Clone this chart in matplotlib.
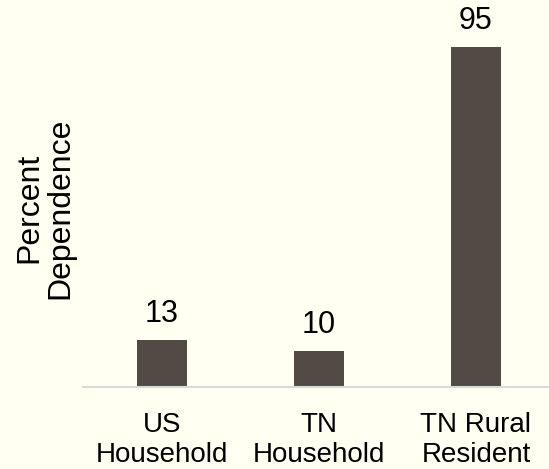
import matplotlib
matplotlib.use("Agg")
import matplotlib.pyplot as plt

categories = ["US\nHousehold", "TN\nHousehold", "TN Rural\nResident"]
values = [13, 10, 95]

bg = "#FFFFF2"
bar_color = "#524A45"

plt.rcParams["font.family"] = ["Liberation Sans", "DejaVu Sans"]

fig = plt.figure(figsize=(5.49, 4.69), dpi=100, facecolor=bg)
ax = fig.add_axes([0.152, 0.1755, 0.858, 0.7625], facecolor=bg)

x = range(len(categories))
bars = ax.bar(x, values, width=0.32, color=bar_color)

# value labels above each bar
for rect, v in zip(bars, values):
    ax.annotate(str(v), (rect.get_x() + rect.get_width() / 2, v),
                xytext=(0, 8), textcoords="offset points",
                ha="center", va="bottom", fontsize=22, color="black")

ax.set_xlim(-0.5, 2.5)
ax.set_ylim(0, 100)
ax.set_xticks(list(x))
ax.set_xticklabels(categories, fontsize=20, linespacing=1.2)
ax.tick_params(axis="x", length=0, pad=18)
ax.set_yticks([])

for side in ["top", "right", "left"]:
    ax.spines[side].set_visible(False)
ax.spines["bottom"].set_color("#D9D9D9")
ax.spines["bottom"].set_linewidth(1.5)

ax.set_ylabel("Percent\nDependence", fontsize=23, labelpad=6, linespacing=1.05)

fig.savefig("out.png", dpi=100, facecolor=bg)
